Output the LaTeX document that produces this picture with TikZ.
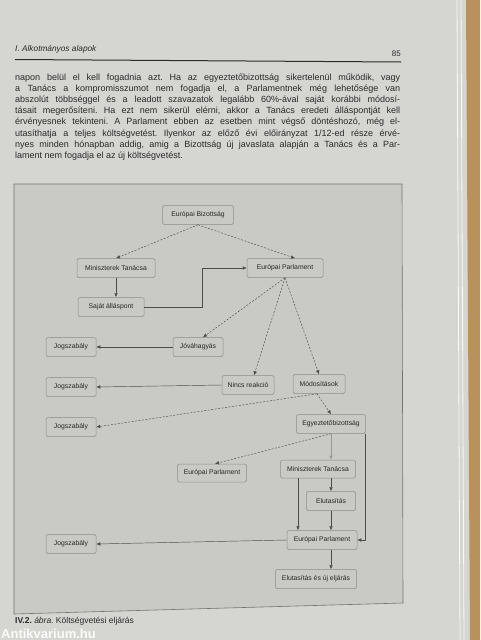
\documentclass[tikz,border=0pt]{standalone}
\usepackage{fontspec}
\setmainfont{Liberation Sans}
\usetikzlibrary{arrows.meta}
\definecolor{page}{HTML}{D5D5D2}
\definecolor{panel}{HTML}{C9C9C6}
\definecolor{wood}{HTML}{B8925A}
\definecolor{ink}{HTML}{2A2A2A}
\frenchspacing
\begin{document}
\begin{tikzpicture}[x=1pt,y=1pt,
  box/.style={draw=black!45, line width=0.5pt, rounded corners=1.5pt, fill=panel,
    minimum height=19pt, inner sep=0pt, font=\fontsize{6.8}{8}\selectfont, text=black!85},
  tip/.style={-{Latex[length=4pt,width=3.6pt]}},
  dline/.style={tip, draw=black!70, line width=0.45pt, dash pattern=on 2pt off 1.5pt},
  sline/.style={tip, draw=black!70, line width=0.45pt},
  bodyline/.style={anchor=base west, inner sep=0pt, text=ink,
    font=\fontsize{9}{10}\selectfont}
]
\useasboundingbox (0,0) rectangle (480,-640);
\fill[page] (0,0) rectangle (480,-640);
% right side: page edges and wood
\fill[wood] (466,0) -- (480,0) -- (480,-640) -- (470,-640) -- cycle;
\draw[white!85!page, line width=0.8pt] (457,0) -- (460,-640);
\draw[white!85!page, line width=0.8pt] (461,0) -- (464,-640);

% header
\node[anchor=base west, inner sep=0pt, text=ink, font=\fontsize{8.3}{9}\selectfont\itshape] (hd) at (15,-51) {I. Alkotmányos alapok};
\node[anchor=base east, inner sep=0pt, text=ink, font=\fontsize{8}{9}\selectfont] (pg) at (401,-56) {85};
\draw[ink, line width=1pt] (15,-59.5) -- (401,-62);

% body text
\node[bodyline] (l1) at (15,-80.0) {\makebox[385pt][s]{napon belül el kell fogadnia azt. Ha az egyeztetőbizottság sikertelenül működik, vagy}};
\node[bodyline] (l2) at (15,-91.2) {\makebox[385pt][s]{a Tanács a kompromisszumot nem fogadja el, a Parlamentnek még lehetősége van}};
\node[bodyline] (l3) at (15,-102.4) {\makebox[385pt][s]{abszolút többséggel és a leadott szavazatok legalább 60\%-ával saját korábbi módosí-}};
\node[bodyline] (l4) at (15,-113.6) {\makebox[385pt][s]{tásait megerősíteni. Ha ezt nem sikerül elérni, akkor a Tanács eredeti álláspontját kell}};
\node[bodyline] (l5) at (15,-124.8) {\makebox[385pt][s]{érvényesnek tekinteni. A Parlament ebben az esetben mint végső döntéshozó, még el-}};
\node[bodyline] (l6) at (15,-136.0) {\makebox[385pt][s]{utasíthatja a teljes költségvetést. Ilyenkor az előző évi előirányzat 1/12-ed része érvé-}};
\node[bodyline] (l7) at (15,-147.2) {\makebox[385pt][s]{nyes minden hónapban addig, amig a Bizottság új javaslata alapján a Tanács és a Par-}};
\node[bodyline] (l8) at (15,-158.4) {lament nem fogadja el az új költségvetést.};

% diagram panel
\filldraw[fill=panel, draw=black!55, line width=0.6pt] (14,-184) -- (402,-184) -- (403,-603) -- (14,-614) -- cycle;

% nodes
\node[box, minimum width=71pt] (eb) at (198,-215) {Európai Bizottság};
\node[box, minimum width=78pt] (mt1) at (116,-268) {Miniszterek Tanácsa};
\node[box, minimum width=76pt] (ep1) at (285,-268) {Európai Parlament};
\node[box, minimum width=66pt] (sa) at (111,-307) {Saját álláspont};
\node[box, minimum width=50pt] (jov) at (198,-347) {Jóváhagyás};
\node[box, minimum width=50pt] (j1) at (71,-347) {Jogszabály};
\node[box, minimum width=52pt] (nr) at (248,-385) {Nincs reakció};
\node[box, minimum width=52pt] (mod) at (319,-384) {Módosítások};
\node[box, minimum width=50pt] (j2) at (71,-387) {Jogszabály};
\node[box, minimum width=69pt] (egy) at (331,-424) {Egyeztetőbizottság};
\node[box, minimum width=50pt] (j3) at (71,-427) {Jogszabály};
\node[box, minimum width=69pt, minimum height=18pt] (ep2) at (212,-473) {Európai Parlament};
\node[box, minimum width=75pt, minimum height=18pt] (mt2) at (318,-469) {Miniszterek Tanácsa};
\node[box, minimum width=49pt] (el) at (331,-501) {Elutasítás};
\node[box, minimum width=70pt] (ep3) at (322,-540) {Európai Parlament};
\node[box, minimum width=50pt] (j4) at (71,-544) {Jogszabály};
\node[box, minimum width=81pt] (euj) at (316,-579) {Elutasítás és új eljárás};

% connectors
\draw[dline] (eb.south) -- (mt1.north);
\draw[dline] (eb.south) -- ([xshift=10pt]ep1.north);
\draw[sline] (mt1.south) -- (mt1.south |- sa.north);
\coordinate (k1) at (202,-268);
\draw[sline] (sa.east) -| (k1) -- (ep1.west);
\draw[dline] (ep1.south) -- ([xshift=5pt]jov.north);
\draw[dline] (ep1.south) -- ([xshift=6pt]nr.north);
\draw[dline] (ep1.south) -- (mod.north);
\draw[sline] (jov.west) -- (j1.east);
\draw[sline] (nr.west) -- (j2.east);
\draw[dline] ([xshift=-2pt]mod.south) -- (j3.east);
\draw[dline] ([xshift=-2pt]mod.south) -- (egy.north);
\draw[dline] (egy.south) -- ([xshift=3pt]ep2.north);
\draw[sline, draw=black!40] (egy.south) -- (egy.south |- mt2.north);
\draw[sline] ([xshift=-1pt]egy.south east) |- (ep3.east);
\draw[sline] (el.north |- mt2.south) -- (el.north);
\draw[sline] ([xshift=-20pt]mt2.south) -- ([xshift=-20pt]mt2.south |- ep3.north);
\draw[sline] (el.south) -- (el.south |- ep3.north);
\draw[sline] (ep3.west) -- (j4.east);
\draw[sline] ([xshift=9pt]ep3.south) -- ([xshift=9pt]ep3.south |- euj.north);

% caption and watermark
\node[anchor=base west, inner sep=0pt, text=ink, font=\fontsize{8.5}{10}\selectfont] (cap) at (15,-623) {\textbf{IV.2.} \textit{ábra.} Költségvetési eljárás};
\node[anchor=base west, inner sep=0pt, text=white!90!page, font=\fontsize{13}{14}\selectfont\bfseries] (wm) at (1,-638) {Antikvarium.hu};
\end{tikzpicture}
\end{document}
